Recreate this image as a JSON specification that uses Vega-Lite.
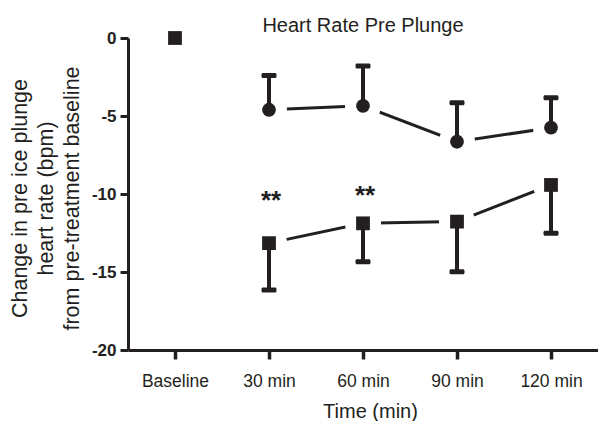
{
  "$schema": "https://vega.github.io/schema/vega-lite/v6.json",
  "width": 470,
  "height": 312,
  "autosize": {"type": "none"},
  "padding": {"left": 128, "top": 38, "right": 0, "bottom": 71},
  "background": "white",
  "config": {
    "view": {"stroke": null},
    "font": "Liberation Sans",
    "axis": {"grid": false}
  },
  "title": {
    "text": "Heart Rate Pre Plunge",
    "fontSize": 20,
    "fontWeight": "normal",
    "font": "Liberation Sans",
    "color": "#231f20",
    "anchor": "middle",
    "frame": "group",
    "baseline": "alphabetic",
    "offset": 0,
    "dy": 22.5
  },
  "datasets": {
    "hr": [
      {"time": "Baseline", "group": "B", "mean": 0, "err": null},
      {"time": "30 min", "group": "A", "mean": -4.6, "err": -2.4},
      {"time": "60 min", "group": "A", "mean": -4.35, "err": -1.8},
      {"time": "90 min", "group": "A", "mean": -6.65, "err": -4.15},
      {"time": "120 min", "group": "A", "mean": -5.75, "err": -3.83},
      {"time": "30 min", "group": "B", "mean": -13.15, "err": -16.15},
      {"time": "60 min", "group": "B", "mean": -11.88, "err": -14.34},
      {"time": "90 min", "group": "B", "mean": -11.77, "err": -14.98},
      {"time": "120 min", "group": "B", "mean": -9.42, "err": -12.52}
    ],
    "sig": [
      {"time": "30 min", "y": -10.93, "label": "**"},
      {"time": "60 min", "y": -10.62, "label": "**"}
    ]
  },
  "data": {"name": "hr"},
  "encoding": {
    "x": {
      "field": "time",
      "type": "nominal",
      "sort": ["Baseline", "30 min", "60 min", "90 min", "120 min"],
      "scale": {"type": "point", "padding": 0.5, "domain": ["Baseline", "30 min", "60 min", "90 min", "120 min"]},
      "axis": {
        "title": "Time (min)",
        "titleFontSize": 20,
        "titleFontWeight": "normal",
        "titleColor": "#231f20",
        "titleX": 242,
        "titleY": 67,
        "titleBaseline": "alphabetic",
        "labelAngle": 0,
        "labelFontSize": 17.5,
        "labelColor": "#231f20",
        "labelPadding": 13.5,
        "domainColor": "#231f20",
        "domainWidth": 3,
        "tickColor": "#231f20",
        "tickWidth": 3.5,
        "tickSize": 9
      }
    },
    "y": {
      "field": "mean",
      "type": "quantitative",
      "scale": {"domain": [-20, 0], "nice": false, "zero": false},
      "axis": {
        "values": [0, -5, -10, -15, -20],
        "labelExpr": "datum.value == 0 ? '0' : '-' + abs(datum.value)",
        "title": ["Change in pre ice plunge", "heart rate (bpm)", "from pre-treatment baseline"],
        "titleFontSize": 21.5,
        "titleLineHeight": 26,
        "titleFontWeight": "normal",
        "titleColor": "#231f20",
        "titleX": -96.5,
        "titleY": 160,
        "titleAngle": -90,
        "titleAlign": "center",
        "titleBaseline": "bottom",
        "labelFontSize": 17,
        "labelFontWeight": "bold",
        "labelColor": "#231f20",
        "labelPadding": 4,
        "domainColor": "#231f20",
        "domainWidth": 3,
        "tickColor": "#231f20",
        "tickWidth": 3,
        "tickSize": 8
      }
    }
  },
  "layer": [
    {
      "transform": [{"filter": "datum.time != 'Baseline'"}],
      "mark": {"type": "line", "color": "#231f20", "strokeWidth": 3},
      "encoding": {"detail": {"field": "group", "type": "nominal"}}
    },
    {
      "transform": [{"filter": "datum.time != 'Baseline'"}],
      "mark": {"type": "point", "shape": "circle", "filled": true, "color": "white", "opacity": 1, "size": 1300, "strokeWidth": 0}
    },
    {
      "transform": [{"filter": "datum.err != null"}],
      "mark": {"type": "rule", "color": "#231f20", "strokeWidth": 4},
      "encoding": {"y2": {"field": "err"}}
    },
    {
      "transform": [{"filter": "datum.err != null"}],
      "mark": {"type": "tick", "color": "#231f20", "size": 15, "thickness": 5, "opacity": 1, "cornerRadius": 1.5},
      "encoding": {"y": {"field": "err", "type": "quantitative"}}
    },
    {
      "mark": {"type": "point", "filled": true, "color": "#231f20", "opacity": 1, "size": 190},
      "encoding": {
        "shape": {"field": "group", "type": "nominal", "scale": {"domain": ["A", "B"], "range": ["circle", "square"]}, "legend": null}
      }
    },
    {
      "data": {"name": "sig"},
      "mark": {"type": "text", "fontSize": 26, "fontWeight": "bold", "color": "#231f20", "baseline": "alphabetic", "align": "center", "dx": 2},
      "encoding": {
        "y": {"field": "y", "type": "quantitative"},
        "text": {"field": "label"}
      }
    }
  ]
}
